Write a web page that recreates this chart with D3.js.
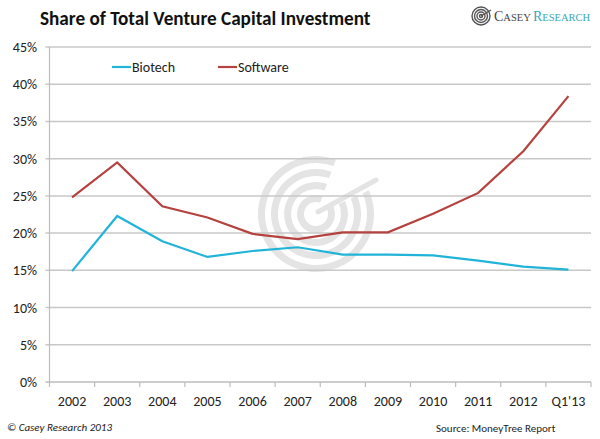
<!DOCTYPE html>
<html><head><meta charset="utf-8">
<script src="https://cdn.jsdelivr.net/npm/d3@7"></script>
<style>body{margin:0;background:#fff}svg{display:block}</style>
</head><body>
<svg id="c" width="600" height="439"></svg>
<script>
const categories = ["2002","2003","2004","2005","2006","2007","2008","2009","2010","2011","2012","Q1'13"];
const biotech = [14.9,22.3,18.9,16.8,17.6,18.1,17.1,17.1,17.0,16.3,15.5,15.1];
const software = [24.8,29.5,23.6,22.1,19.9,19.2,20.1,20.1,22.6,25.4,31.0,38.4];
const yTicks = [0,5,10,15,20,25,30,35,40,45];
const seriesNames = ["Biotech","Software"];
const colors = ["#22b4d8","#b5423e"];

const svg = d3.select("#c");
const L = 49.5, R = 591, T = 47, B = 382;
const x = d3.scaleBand().domain(categories).range([L, R]);
const y = d3.scaleLinear().domain([0,45]).range([B, T]);
const font = "Calibri, Carlito, Lato, 'Open Sans', sans-serif";

// watermark
const wm = svg.append("g").attr("transform","translate(316,214)");
[58,45,32,19].forEach((r,i)=>{
  const arc = d3.arc().innerRadius(r-7).outerRadius(r).startAngle(1.15).endAngle(2*Math.PI+0.35);
  wm.append("path").attr("d",arc()).attr("fill","#e4e4e4");
});
wm.append("line").attr("x1",2).attr("y1",-2).attr("x2",60).attr("y2",-34).attr("stroke","#e4e4e4").attr("stroke-width",5).attr("stroke-linecap","round");

// gridlines
svg.append("g").selectAll("line").data(yTicks).join("line")
  .attr("x1",L-4).attr("x2",R).attr("y1",d=>y(d)).attr("y2",d=>y(d))
  .attr("stroke",d=>d===0?"#bdbdbd":"#c8c8c8").attr("stroke-width",1.5);

// y axis line
svg.append("line").attr("x1",L).attr("x2",L).attr("y1",T).attr("y2",B).attr("stroke","#bdbdbd").attr("stroke-width",1.2);

// x ticks at band boundaries
const bounds = categories.map(c=>x(c)).concat([R]);
svg.append("g").selectAll("line").data(bounds).join("line")
  .attr("x1",d=>d).attr("x2",d=>d).attr("y1",B).attr("y2",B+5)
  .attr("stroke","#bdbdbd").attr("stroke-width",1.2);

// y labels
svg.append("g").selectAll("text").data(yTicks).join("text")
  .attr("x",37).attr("y",d=>y(d)+5).attr("text-anchor","end")
  .attr("font-family",font).attr("font-size",14).attr("fill","#222")
  .text(d=>d+"%");

// x labels
svg.append("g").selectAll("text").data(categories).join("text")
  .attr("x",d=>x(d)+x.bandwidth()/2).attr("y",406).attr("text-anchor","middle")
  .attr("font-family",font).attr("font-size",14).attr("fill","#222")
  .text(d=>d);

// lines
const line = d3.line().x((d,i)=>x(categories[i])+x.bandwidth()/2).y(d=>y(d));
[biotech, software].forEach((s,i)=>{
  svg.append("path").attr("d",line(s)).attr("fill","none").attr("stroke",colors[i]).attr("stroke-width",2.2);
});

// legend
const lg = [{x:112},{x:218}];
seriesNames.forEach((n,i)=>{
  svg.append("line").attr("x1",lg[i].x).attr("x2",lg[i].x+19).attr("y1",67).attr("y2",67).attr("stroke",colors[i]).attr("stroke-width",2.2);
  svg.append("text").attr("x",lg[i].x+20).attr("y",72).attr("font-family",font).attr("font-size",14).attr("fill","#222").text(n);
});

// title
svg.append("text").attr("x",40).attr("y",25).attr("font-family",font).attr("font-weight","bold").attr("font-size",19.2).attr("fill","#111")
  .text("Share of Total Venture Capital Investment");

// logo
const lgG = svg.append("g").attr("transform","translate(481,16)");
[9,6.5,4,1.5].forEach(r=>{
  lgG.append("circle").attr("r",r).attr("fill","none").attr("stroke","#555").attr("stroke-width",1.4);
});
lgG.append("line").attr("x1",0).attr("y1",0).attr("x2",10).attr("y2",-6).attr("stroke","#555").attr("stroke-width",1.4);
const lt = svg.append("text").attr("x",494).attr("y",21).attr("font-family","'Liberation Serif', 'DejaVu Serif', serif").attr("fill","#444");
lt.append("tspan").attr("font-size",14).text("C");
lt.append("tspan").attr("font-size",10.5).text("ASEY ");
lt.append("tspan").attr("font-size",14).attr("fill","#3aa9b5").text("R");
lt.append("tspan").attr("font-size",10.5).attr("fill","#3aa9b5").text("ESEARCH");

// footer
svg.append("text").attr("x",7).attr("y",431).attr("font-family",font).attr("font-style","italic").attr("font-size",11).attr("fill","#222").text("© Casey Research 2013");
svg.append("text").attr("x",436).attr("y",432).attr("font-family",font).attr("font-size",11).attr("fill","#222").text("Source: MoneyTree Report");
</script>
</body></html>
